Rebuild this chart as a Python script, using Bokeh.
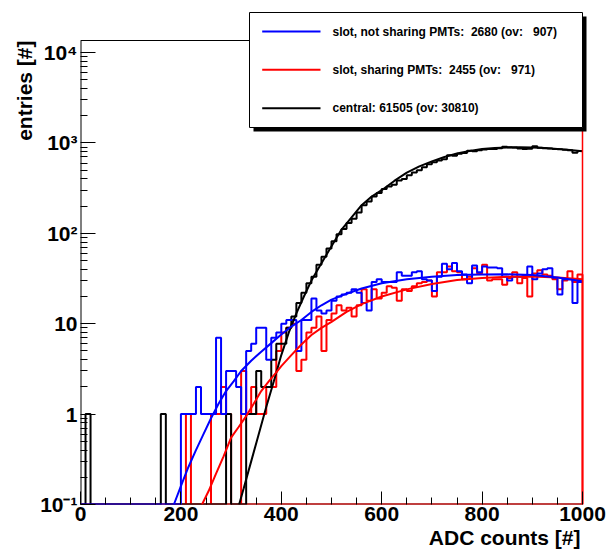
import numpy as np
from bokeh.plotting import figure
from bokeh.models import (FixedTicker, CustomJSTickFormatter, Label, BoxAnnotation,
                          Arrow, Range1d, Title)
from bokeh.embed import file_html
from bokeh.resources import INLINE

# ---------------- data ----------------
bin_lo = 0
bin_hi = 1000
bin_width = 10

# slot, not sharing PMTs (blue) - entries per 10-count bin, 0..990
blue_counts = [
    0, 0, 0, 0, 0, 0, 0, 0, 0, 0,
    0, 0, 0, 0, 0, 0, 0, 0, 0, 0,
    1, 1, 1, 2, 1, 1, 1, 7, 1, 3,
    3, 2, 1, 5, 6, 9, 9, 4, 7, 8,
    10, 11, 11, 5, 11, 11, 19, 14, 13, 14,
    18, 20, 21, 22, 24, 22, 17, 14, 29, 31,
    29, 29, 29, 37, 34, 34, 37, 38, 31, 30,
    23, 33, 46, 40, 47, 38, 35, 28, 44, 37,
    43, 42, 42, 41, 33, 30, 33, 33, 34, 43,
    31, 36, 40, 41, 32, 21, 31, 31, 17, 29,
]

# slot, sharing PMTs (red)
red_counts = [
    0, 0, 0, 0, 0, 0, 0, 0, 0, 0,
    0, 0, 0, 0, 0, 0, 0, 0, 0, 0,
    0, 1, 0, 0, 0, 0, 1, 1, 2, 1,
    0, 0, 3, 1, 2, 1, 1, 2, 2, 5,
    8, 9, 10, 3, 4, 8, 9, 12, 5, 11,
    13, 16, 14, 15, 12, 16, 24, 18, 24, 19,
    22, 26, 25, 18, 24, 23, 26, 28, 29, 30,
    20, 37, 37, 43, 38, 37, 31, 33, 41, 36,
    45, 30, 31, 31, 27, 32, 37, 28, 32, 20,
    36, 39, 35, 34, 31, 24, 30, 38, 29, 35,
]

# central (black)
black_counts = [
    0, 1, 0, 0, 0, 0, 0, 0, 0, 0,
    0, 0, 0, 0, 0, 0, 1, 0, 0, 0,
    0, 0, 0, 0, 0, 0, 0, 0, 0, 1,
    0, 0, 0, 1, 1, 3, 2, 2, 4, 6,
    6, 9, 12, 17, 22, 28, 33, 45, 55, 68,
    82, 98, 112, 130, 145, 170, 205, 225, 255, 280,
    310, 330, 345, 385, 400, 440, 470, 500, 540, 580,
    610, 640, 660, 730, 720, 760, 775, 820, 810, 830,
    845, 860, 860, 875, 910, 895, 890, 870, 860, 865,
    920, 885, 875, 870, 860, 850, 840, 830, 780, 815,
]

# fitted curves
black_fit_x = [316, 325, 340, 355, 370, 385, 400, 415, 430, 445, 460, 475, 490, 505, 520,
               540, 560, 580, 600, 625, 650, 675, 700, 725, 750, 775, 800, 825, 850, 875,
               900, 925, 950, 975, 1000]
black_fit_y = [0.1, 0.15, 0.3, 0.6, 1.2, 2.3, 4.5, 8, 13, 20, 30, 42, 58, 80, 110,
               150, 205, 255, 300, 380, 470, 550, 625, 700, 765, 815, 855, 880, 893, 895,
               890, 878, 860, 835, 810]

blue_fit_x = [186, 200, 215, 230, 245, 260, 275, 290, 305, 320, 340, 360, 380, 400, 420,
              440, 460, 480, 500, 530, 560, 600, 650, 700, 750, 800, 850, 900, 950, 1000]
blue_fit_y = [0.1, 0.16, 0.26, 0.4, 0.6, 0.9, 1.3, 1.8, 2.3, 3.0, 3.9, 4.9, 6.1, 7.6, 9.3,
              11, 13.5, 16, 18.5, 21.5, 24.5, 28, 31, 33, 34.5, 35, 35.2, 34.5, 32.5, 29.5]

red_fit_x = [242, 255, 270, 285, 300, 315, 330, 345, 360, 375, 390, 400, 420, 440, 460,
             480, 500, 530, 560, 600, 650, 700, 750, 800, 850, 900, 950, 1000]
red_fit_y = [0.1, 0.14, 0.22, 0.34, 0.55, 0.72, 0.95, 1.3, 1.8, 2.3, 2.9, 3.4, 4.5, 5.9, 7.5,
             9.0, 10.5, 13.5, 16.5, 20, 24, 27.5, 30.5, 32, 33, 33.2, 32.5, 31]

NB = "\u00a0"
legend_labels = [
    "slot, not sharing PMTs:" + NB + " 2680 (ov:" + NB + NB + " 907)",
    "slot, sharing PMTs:" + NB + " 2455 (ov:" + NB + NB + " 971)",
    "central: 61505 (ov: 30810)",
]
legend_colors = ["#0000ff", "#ff0000", "#000000"]

x_ticks = [0, 200, 400, 600, 800, 1000]
y_ticks = [0.1, 1, 10, 100, 1000, 10000]

y_min, y_max = 0.1, 13600.0

# ---------------- geometry (pixels) ----------------
W, H = 611, 550
fr_left, fr_right, fr_top, fr_bottom = 80, 582, 40, 504      # visible plot frame
ext_top, ext_right = 8, 5        # extra room above/right so the legend box is not clipped
px_per_dec = (fr_bottom - fr_top) / np.log10(y_max / y_min)
y_top_ext = y_max * 10 ** ((fr_top - ext_top) / px_per_dec)
x_end_ext = bin_hi + (bin_hi - bin_lo) * ext_right / (fr_right - fr_left)

FONT = "Liberation Sans"
p = figure(width=W, height=H, x_range=Range1d(bin_lo, x_end_ext),
           y_range=Range1d(y_min, y_top_ext), y_axis_type="log",
           output_backend="svg", toolbar_location=None,
           min_border_left=fr_left, min_border_right=W - fr_right - ext_right,
           min_border_top=ext_top, min_border_bottom=H - fr_bottom)
p.xgrid.visible = False
p.ygrid.visible = False
p.outline_line_color = None
p.background_fill_color = "white"
p.border_fill_color = "white"

# x axis
x_minor = [t for t in range(50, 1000, 50) if t % 200 != 0]
p.xaxis.ticker = FixedTicker(ticks=x_ticks, minor_ticks=x_minor)
p.xaxis.major_tick_in = 13
p.xaxis.major_tick_out = 0
p.xaxis.minor_tick_in = 7
p.xaxis.minor_tick_out = 0
p.xaxis.major_label_standoff = 2

# y axis
y_minor = [m * 10.0 ** e for e in range(-1, 4) for m in range(2, 10)]
p.yaxis.ticker = FixedTicker(ticks=y_ticks, minor_ticks=y_minor)
p.yaxis.major_tick_in = 15
p.yaxis.major_tick_out = 0
p.yaxis.minor_tick_in = 7
p.yaxis.minor_tick_out = 0
p.yaxis.major_label_standoff = 3
p.yaxis.formatter = CustomJSTickFormatter(code="""
    const e = Math.round(Math.log10(tick));
    if (e === 0) return "1";
    if (e === 1) return "10";
    const sup = {"-1": "\u207b\u00b9", "2": "\u00b2", "3": "\u00b3", "4": "\u2074"};
    return "10" + sup[String(e)];
""")

for ax in (p.xaxis[0], p.yaxis[0]):
    ax.major_label_text_font = FONT
    ax.major_label_text_font_style = "bold"
    ax.major_label_text_font_size = "21px"
    ax.major_label_text_color = "black"
    ax.axis_line_color = None
    ax.major_tick_line_color = "black"
    ax.minor_tick_line_color = "black"

# frame lines (left / bottom / top) of the visible frame
p.segment(x0=[bin_lo, bin_lo, bin_lo], y0=[y_min, y_min, y_max],
          x1=[bin_lo, bin_hi, bin_hi], y1=[y_max, y_min, y_max],
          line_color="black", line_width=[2, 2, 1])

# ---------------- histograms ----------------
edges = np.arange(bin_lo, bin_hi + bin_width, bin_width)


def step_path(counts):
    c = np.asarray(counts, dtype=float)
    c = np.where(c > 0, c, y_min)          # empty bins sit on the frame floor (log scale)
    xs = np.repeat(edges, 2)[1:-1]
    ys = np.repeat(c, 2)
    return xs, ys


rx, ry = step_path(red_counts)
rx = np.concatenate([rx, [edges[-1], edges[0]]])
ry = np.concatenate([ry, [y_min, y_min]])
p.line(rx, ry, line_color="#ff0000", line_width=2)

bx, by = step_path(black_counts)
p.line(bx, by, line_color="#000000", line_width=2)

ux, uy = step_path(blue_counts)
p.line(ux, uy, line_color="#0000ff", line_width=2)

# ---------------- fits ----------------
p.line(black_fit_x, black_fit_y, line_color="#000000", line_width=2)
p.line(red_fit_x, red_fit_y, line_color="#ff0000", line_width=2)
p.line(blue_fit_x, blue_fit_y, line_color="#0000ff", line_width=2)

# red right edge of the frame
p.segment(x0=[bin_hi], y0=[y_min], x1=[bin_hi], y1=[y_max], line_color="#ff0000", line_width=1.5)

# ---------------- axis titles ----------------
p.add_layout(Title(text="entries [#]", align="right", offset=fr_top - ext_top, standoff=4,
                   text_font=FONT, text_font_style="bold", text_font_size="21px",
                   text_color="black"), "left")
p.add_layout(Title(text="ADC counts [#]", align="right", offset=ext_right + 2, standoff=0,
                   text_font=FONT, text_font_style="bold", text_font_size="21px",
                   text_color="black"), "below")

# ---------------- legend (ROOT style with shadow) ----------------
L, R, T, B = 169, 502, 492, 377
p.add_layout(BoxAnnotation(left=L + 4, right=R + 4, top=T - 4, bottom=B - 4,
                           left_units="screen", right_units="screen",
                           top_units="screen", bottom_units="screen",
                           fill_color="black", fill_alpha=1, line_alpha=0))
p.add_layout(BoxAnnotation(left=L, right=R, top=T, bottom=B,
                           left_units="screen", right_units="screen",
                           top_units="screen", bottom_units="screen",
                           fill_color="white", fill_alpha=1,
                           line_color="black", line_width=1, line_alpha=1))
row_y = [473, 434.7, 396.3]
for lab, col, yy in zip(legend_labels, legend_colors, row_y):
    p.add_layout(Arrow(end=None, x_start=181.7, y_start=yy, x_end=240, y_end=yy,
                       start_units="screen", end_units="screen",
                       line_color=col, line_width=2))
    p.add_layout(Label(x=252, y=yy, x_units="screen", y_units="screen", text=lab,
                       text_align="left", text_baseline="middle",
                       text_font=FONT, text_font_style="bold", text_font_size="12px",
                       text_color="black"))

open("out.html", "w").write(file_html(p, INLINE))
